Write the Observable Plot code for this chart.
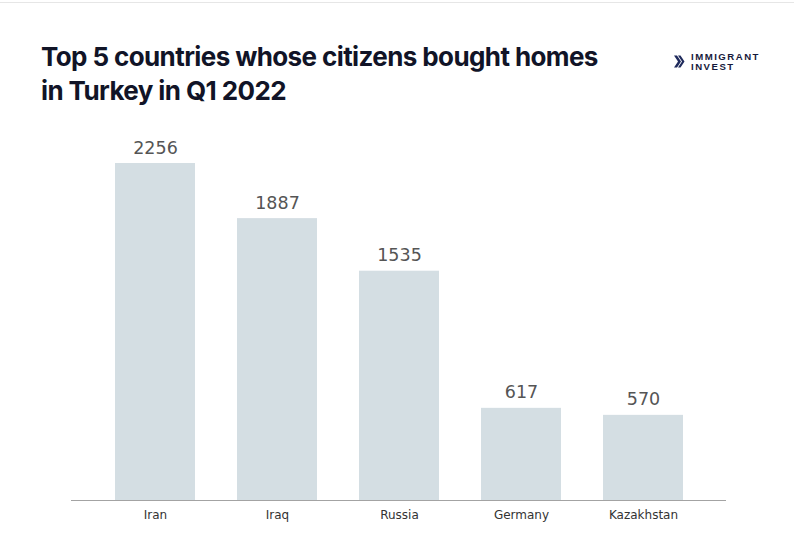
<!DOCTYPE html>
<html>
<head>
<meta charset="utf-8">
<script src="https://cdn.jsdelivr.net/npm/d3@7"></script>
<script src="https://cdn.jsdelivr.net/npm/@observablehq/plot@0.6"></script>
<style>
  html, body { margin: 0; padding: 0; background: #fff; }
  #wrap { position: relative; width: 794px; height: 559px; overflow: hidden; background: #fff; }
  #topline { position: absolute; left: 0; top: 2px; width: 794px; height: 1px; background: #e6e6e6; }
  #title { position: absolute; left: 41px; top: 40px; margin: 0; font-family: Inter, sans-serif; font-weight: 700;
           font-size: 26px; line-height: 34px; color: #111427; letter-spacing: -0.6px; }
  #logo { position: absolute; left: 674px; top: 52px; display: flex; align-items: center; }
  #logo .txt { font-family: "Liberation Sans", Arial, sans-serif; font-weight: 700; font-size: 9.6px; line-height: 9.6px;
               color: #16193a; letter-spacing: 1.5px; margin-left: 6px; }
  #chart { position: absolute; left: 0; top: 110px; }
</style>
</head>
<body>
<div id="wrap">
  <div id="topline"></div>
  <div id="title">Top 5 countries whose citizens bought homes<br>in Turkey in Q1 2022</div>
  <div id="logo">
    <svg width="11" height="13" viewBox="0 0 11 13"><path d="M0 0.5 L3 0.5 L7 6.5 L3 12.5 L0 12.5 L4 6.5 Z" fill="#1f2a5c"/><path d="M4 0.5 L6.5 0.5 L10.5 6.5 L6.5 12.5 L4 12.5 L8 6.5 Z" fill="#1f2a5c"/></svg>
    <div class="txt">IMMIGRANT<br>INVEST</div>
  </div>
  <div id="chart"></div>
</div>
<script>
const countries = ["Iran", "Iraq", "Russia", "Germany", "Kazakhstan"];
const buyers = [2256, 1887, 1535, 617, 570];

const data = countries.map((c, i) => ({country: c, value: buyers[i]}));

const chart = Plot.plot({
  width: 794,
  height: 449,
  marginLeft: 71,
  marginRight: 68,
  marginTop: 53,
  marginBottom: 59,
  style: {background: "transparent", fontFamily: "'DejaVu Sans', sans-serif", overflow: "visible"},
  x: {domain: countries, padding: 0.347, label: null, tickSize: 0, tickPadding: 10},
  y: {domain: [0, d3.max(buyers)], axis: null},
  marks: [
    Plot.barY(data, {x: "country", y: "value", fill: "#d4dee3"}),
    Plot.ruleY([0], {stroke: "#a3a3a3", strokeWidth: 1.2}),
    Plot.text(data, {x: "country", y: "value", text: d => String(d.value), lineAnchor: "bottom", dy: -10,
                     fontSize: 17.5, fill: "#555555", fontFamily: "'DejaVu Sans', sans-serif"}),
    Plot.axisX({tickSize: 0, tickPadding: 10, fontSize: 12, color: "#333333", label: null,
                fontFamily: "'DejaVu Sans', sans-serif"})
  ]
});
document.getElementById("chart").appendChild(chart);
</script>
</body>
</html>
